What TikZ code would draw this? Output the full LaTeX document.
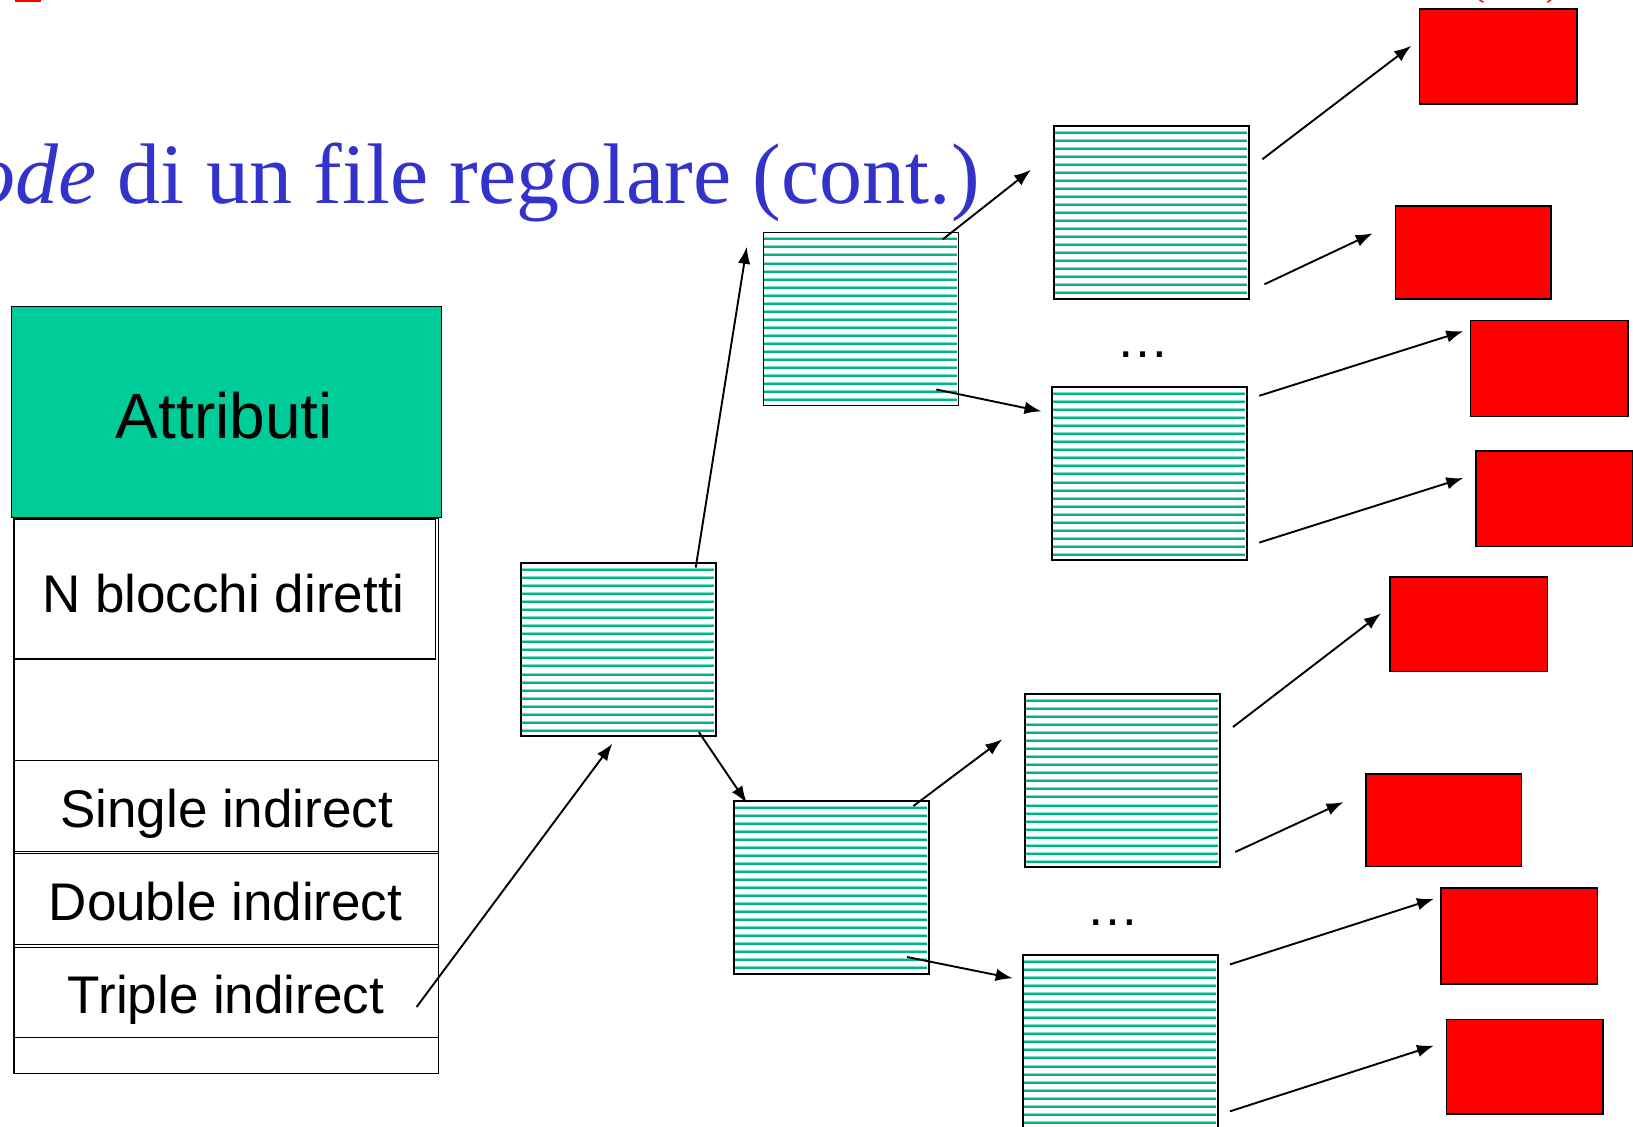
\documentclass[tikz,border=0pt]{standalone}
\usepackage{fontspec}
\setmainfont{Liberation Serif}
\newfontfamily\lsans{Liberation Sans}
\usetikzlibrary{arrows.meta}
\definecolor{titleblue}{RGB}{51,51,204}
\definecolor{attrgreen}{RGB}{0,204,153}
\definecolor{stripedark}{RGB}{0,180,138}
\definecolor{stripelight}{RGB}{130,225,198}
\definecolor{redbox}{RGB}{255,0,0}
\newcommand\stripeblock[3]{%
  \foreach \k in {0,...,20} {
    \pgfmathsetmacro\yy{round(#3+7.7+8.04*\k)}
    \draw[stripelight, line width=1pt] (#2+1,\yy-1.5) -- (#2+194,\yy-1.5);
    \draw[stripedark, line width=2pt] (#2+1,\yy) -- (#2+194,\yy);
  }
  \node[sblk] (#1) at (#2,#3) {};
}
\begin{document}
\begin{tikzpicture}[x=1pt,y=-1pt,
  ptr/.style={line width=1.9pt, -{Latex[length=17pt,width=12.5pt]}},
  redblk/.style={draw=black, line width=1.7pt, fill=redbox, rectangle, inner sep=0pt, anchor=north west},
  sblk/.style={draw=black, line width=1.6pt, rectangle, inner sep=0pt, minimum width=195pt, minimum height=173pt, anchor=north west},
  cell/.style={draw=black, line width=1.4pt, rectangle, inner sep=0pt, anchor=north west},
  bigtxt/.style={font=\lsans\fontsize{64}{64}\selectfont, anchor=base, inner sep=0pt},
  celltxt/.style={font=\lsans\fontsize{53}{53}\selectfont, anchor=base, inner sep=0pt},
  dots/.style={font=\lsans\fontsize{53}{53}\selectfont, anchor=base, inner sep=0pt}
]
\useasboundingbox (0,0) rectangle (1633,1127);
\clip (0,0) rectangle (1633,1127);

% red remnants at the top edge
\fill[redbox] (15,0) rectangle (40.7,2.4);
\draw[redbox, line width=1.4pt] (1479.5,0) .. controls (1481,1.2) .. (1483.5,2.2);
\draw[redbox, line width=1.4pt] (1551,0) .. controls (1549.5,1.2) .. (1547,2.2);

% title
\node[anchor=base east, inner sep=0pt, text=titleblue, font=\fontsize{86}{86}\selectfont] (title) at (980,203) {\textit{ode} di un file regolare (cont.)};

% left table
\node[cell, fill=attrgreen, minimum width=430pt, minimum height=210.7pt] (attr) at (10.7,306) {};
\node[bigtxt] (attrtxt) at (224.4,438.3) {Attributi};
\node[cell, minimum width=424.4pt, minimum height=555pt] (outer) at (13.3,518) {};
\node[cell, minimum width=421.7pt, minimum height=139.3pt] (nblk) at (13.3,519) {};
\node[celltxt] (nblktxt) at (223.5,612.5) {N blocchi diretti};
\node[cell, minimum width=424.4pt, minimum height=90.5pt] (single) at (13.3,760) {};
\node[celltxt] (singletxt) at (226.7,827.3) {Single indirect};
\node[cell, minimum width=424.4pt, minimum height=91pt] (double) at (13.3,853) {};
\node[celltxt] (doubletxt) at (225.5,920) {Double indirect};
\node[cell, minimum width=424.4pt, minimum height=89.5pt] (triple) at (13.3,947) {};
\node[celltxt] (tripletxt) at (226,1013.3) {Triple indirect};

% striped index blocks
\stripeblock{A}{520}{562.3}
\stripeblock{B}{762.7}{231.7}
\stripeblock{C}{733}{800}
\stripeblock{D}{1053}{125}
\stripeblock{E}{1051}{386.4}
\stripeblock{F}{1024}{693.3}
\stripeblock{G}{1022}{954.3}

\node[dots] (dots1) at (1142.5,357.5) {…};
\node[dots] (dots2) at (1113.3,925.5) {…};

% red data blocks
\node[redblk, minimum width=157.5pt, minimum height=95pt] (R1) at (1418.5,8) {};
\node[redblk, minimum width=155.2pt, minimum height=93pt] (R2) at (1394.6,205) {};
\node[redblk, minimum width=157.2pt, minimum height=96pt] (R3) at (1469.6,319.7) {};
\node[redblk, minimum width=157.2pt, minimum height=95.7pt] (R4) at (1474.8,450) {};
\node[redblk, minimum width=157.2pt, minimum height=94.7pt] (R5) at (1389.4,576) {};
\node[redblk, minimum width=155.2pt, minimum height=92.7pt] (R6) at (1365.4,772.8) {};
\node[redblk, minimum width=156.2pt, minimum height=95.8pt] (R7) at (1440.4,887.4) {};
\node[redblk, minimum width=156.2pt, minimum height=94.8pt] (R8) at (1445.6,1018.6) {};

% connector end points
\coordinate (t0) at (416.6,1007);   \coordinate (t1) at (612.4,743.6);
\coordinate (ab0) at (695.7,567.6); \coordinate (ab1) at (746.8,246.8);
\coordinate (ac0) at (698.9,732.2); \coordinate (ac1) at (746.8,803);
\coordinate (bd0) at (942.6,239.5); \coordinate (bd1) at (1031,169.8);
\coordinate (be0) at (936.3,389.5); \coordinate (be1) at (1041.5,411.4);
\coordinate (cf0) at (913.4,806);   \coordinate (cf1) at (1002.3,739.3);
\coordinate (cg0) at (907,957);     \coordinate (cg1) at (1012.7,978.3);
\coordinate (d10) at (1262.3,159.3); \coordinate (d11) at (1411.2,45.8);
\coordinate (d20) at (1264.4,284.3); \coordinate (d21) at (1372.7,233.3);
\coordinate (e30) at (1259.2,395.8); \coordinate (e31) at (1463.3,331.2);
\coordinate (e40) at (1259.2,542.6); \coordinate (e41) at (1463.3,478);
\coordinate (f50) at (1233,727);     \coordinate (f51) at (1381,613.4);
\coordinate (f60) at (1235.2,852);   \coordinate (f61) at (1343.5,802);
\coordinate (g70) at (1230,964.4);   \coordinate (g71) at (1434,898.8);
\coordinate (g80) at (1230,1111.3);  \coordinate (g81) at (1434,1045.6);

\draw[ptr] (t0) -- (t1);
\draw[ptr] (ab0) -- (ab1);
\draw[ptr] (ac0) -- (ac1);
\draw[ptr] (bd0) -- (bd1);
\draw[ptr] (be0) -- (be1);
\draw[ptr] (cf0) -- (cf1);
\draw[ptr] (cg0) -- (cg1);
\draw[ptr] (d10) -- (d11);
\draw[ptr] (d20) -- (d21);
\draw[ptr] (e30) -- (e31);
\draw[ptr] (e40) -- (e41);
\draw[ptr] (f50) -- (f51);
\draw[ptr] (f60) -- (f61);
\draw[ptr] (g70) -- (g71);
\draw[ptr] (g80) -- (g81);
\end{tikzpicture}
\end{document}
